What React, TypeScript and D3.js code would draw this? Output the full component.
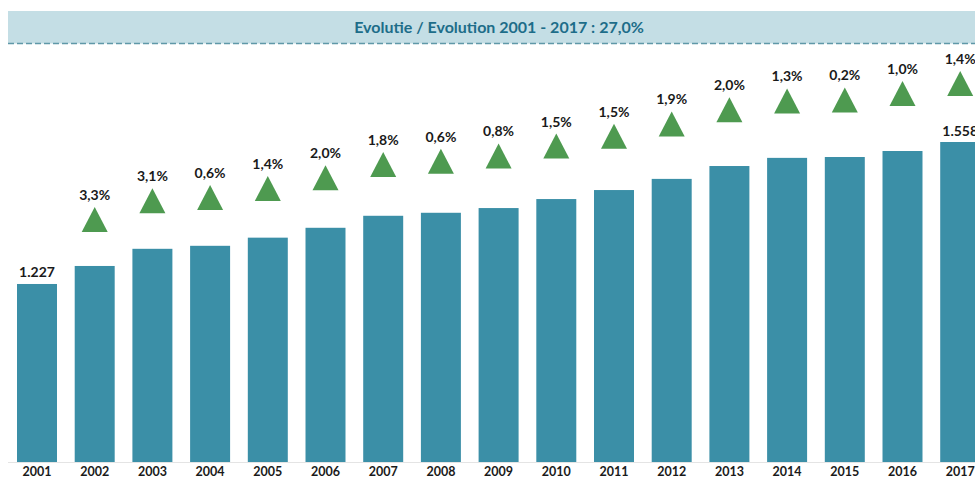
import React from "react";
import * as d3 from "d3";

const years = ["2001","2002","2003","2004","2005","2006","2007","2008","2009","2010","2011","2012","2013","2014","2015","2016","2017"];
const values = [1227,1269,1309,1316,1335,1358,1386,1393,1404,1425,1446,1472,1502,1521,1523,1537,1558];
const growth = [null,"3,3%","3,1%","0,6%","1,4%","2,0%","1,8%","0,6%","0,8%","1,5%","1,5%","1,9%","2,0%","1,3%","0,2%","1,0%","1,4%"];
const valueLabels = ["1.227",null,null,null,null,null,null,null,null,null,null,null,null,null,null,null,"1.558"];
const title = "Evolutie / Evolution 2001 - 2017 : 27,0%";

const W = 975, H = 479;
const FONT = "Lato, 'Open Sans', sans-serif";

export default function App() {
  const x = d3.scaleBand<string>().domain(years).range([8.15, 989.05]).paddingInner(0.307).paddingOuter(0.1535);
  const y = d3.scaleLinear().domain([812, 1558]).range([462, 142]);
  const y2 = d3.scaleLinear().domain([754, 1558]).range([462, 83.5]);
  const triW = 26, triH = 25;
  const tri = d3.line()([[-triW / 2, triH / 2], [0, -triH / 2], [triW / 2, triH / 2]]) + "Z";

  return (
    <svg width={W} height={H} style={{ position: "absolute", left: 0, top: 0, background: "#fff" }} fontFamily={FONT}>
      <rect x={8} y={11} width={W - 8} height={32.5} fill="#c4dee5" />
      <line x1={8} x2={W} y1={43.5} y2={43.5} stroke="#5f98a8" strokeWidth={1.5} strokeDasharray="6,3" />
      <text x={499} y={32.5} textAnchor="middle" fontSize={16} fontWeight={700} fill="#1d6d89">{title}</text>

      <line x1={8} x2={W} y1={462.5} y2={462.5} stroke="#e4e4e4" strokeWidth={1} />

      {years.map((yr, i) => {
        const bx = x(yr)!;
        const cx = bx + x.bandwidth() / 2;
        const ty = y2(values[i]);
        return (
          <g key={yr}>
            <rect x={bx} y={y(values[i])} width={x.bandwidth()} height={462 - y(values[i])} fill="#3b8fa7" />
            {valueLabels[i] && (
              <text x={cx} y={y(values[i]) - 6.5} textAnchor="middle" fontSize={14} fontWeight={700} fill="#1a1a1a">{valueLabels[i]}</text>
            )}
            {growth[i] && (
              <g>
                <path d={tri} transform={`translate(${cx},${ty})`} fill="#4e9a50" />
                <text x={cx} y={ty - triH / 2 - 7} textAnchor="middle" fontSize={14} fontWeight={700} fill="#1a1a1a">{growth[i]}</text>
              </g>
            )}
            <text x={cx} y={476} textAnchor="middle" fontSize={12.5} fontWeight={700} fill="#1a1a1a">{yr}</text>
          </g>
        );
      })}
    </svg>
  );
}
